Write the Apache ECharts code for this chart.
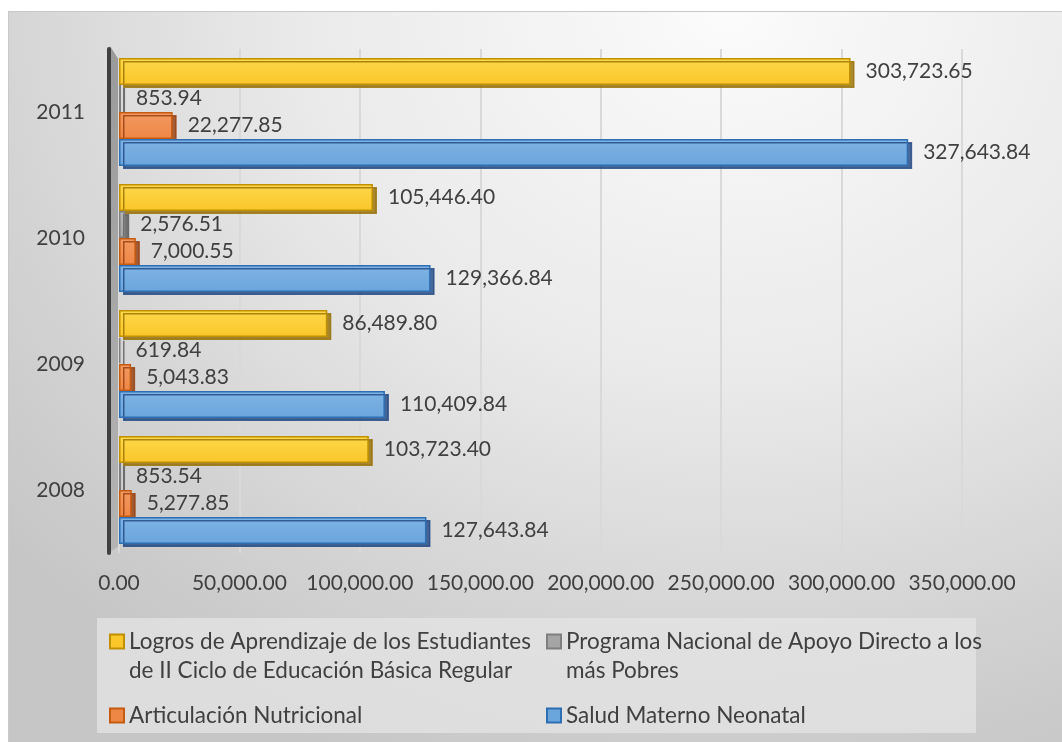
<!DOCTYPE html>
<html>
<head>
<meta charset="utf-8">
<script src="https://cdn.jsdelivr.net/npm/echarts@6/dist/echarts.min.js"></script>
<style>
  html, body { margin: 0; padding: 0; background: #ffffff; }
  .bg {
    position: absolute; left: 8px; top: 11px; width: 1060px; height: 740px;
    box-sizing: border-box; border: 1px solid #c9c9c9;
    background: radial-gradient(ellipse 90% 110% at 68% 0%, #fbfbfb 0%, #eaeaea 45%, #d2d2d2 80%, #c6c6c6 100%);
  }
  #chart { position: absolute; left: 0; top: 0; width: 1062px; height: 742px; }
</style>
</head>
<body>
<div class="bg"></div>
<div id="chart"></div>
<script>
// categorias (abajo -> arriba)
const years = ['2008', '2009', '2010', '2011'];

// valores por programa
const logros = [103723.40, 86489.80, 105446.40, 303723.65];
const programa = [853.54, 619.84, 2576.51, 853.94];
const articulacion = [5277.85, 5043.83, 7000.55, 22277.85];
const salud = [127643.84, 110409.84, 129366.84, 327643.84];

// eje x
const xMin = 0;
const xMax = 350000;
const xStep = 50000;

const names = [
  'Logros de Aprendizaje de los Estudiantes\nde II Ciclo de Educación Básica Regular',
  'Programa Nacional de Apoyo Directo a los\nmás Pobres',
  'Articulación Nutricional',
  'Salud Materno Neonatal'
];

const colors = [
  { fill: '#fac62a', light: '#fdd84a', border: '#bf9000', side: 'rgba(150,110,0,0.8)' },
  { fill: '#a5a5a5', light: '#b8b8b8', border: '#7f7f7f', side: 'rgba(90,90,90,0.8)' },
  { fill: '#ee8645', light: '#f39a62', border: '#c55a11', side: 'rgba(150,60,10,0.8)' },
  { fill: '#6aa5dc', light: '#7fb4e4', border: '#2e6fb4', side: 'rgba(30,70,130,0.8)' }
];

const fmt = v => v.toLocaleString('en-US', { minimumFractionDigits: 2, maximumFractionDigits: 2 });
const font = 'Lato';
const txt = '#404040';

const mkSeries = (idx, data) => ({
  name: names[idx],
  type: 'bar',
  data: data,
  barWidth: 27,
  barGap: '0%',
  itemStyle: {
    color: {
      type: 'linear', x: 0, y: 0, x2: 0, y2: 1,
      colorStops: [
        { offset: 0, color: colors[idx].light },
        { offset: 1, color: colors[idx].fill }
      ]
    },
    borderColor: colors[idx].border,
    borderWidth: 1.5,
    shadowColor: colors[idx].side,
    shadowBlur: 0,
    shadowOffsetX: 4,
    shadowOffsetY: 3
  },
  label: {
    show: true,
    position: 'right',
    distance: 15,
    color: txt,
    fontFamily: font,
    fontSize: 21,
    formatter: p => fmt(p.value)
  }
});

// dos lineas: se antepone una linea vacia para alinear el icono con la primera
const legendItem = (idx, left, top) => ({
  left: left,
  top: top,
  padding: 0,
  icon: 'rect',
  itemWidth: 14,
  itemHeight: 14,
  data: [{
    name: names[idx],
    itemStyle: { color: colors[idx].fill, borderColor: colors[idx].border, borderWidth: 2, shadowBlur: 0, shadowOffsetX: 0, shadowOffsetY: 0 }
  }],
  selectedMode: false,
  formatter: n => (n.indexOf('\n') >= 0 ? '\n' + n : n),
  textStyle: {
    color: txt,
    fontFamily: font,
    fontSize: 22.5,
    lineHeight: 29
  }
});

const myChart = echarts.init(document.getElementById('chart'));

const option = {
  animation: false,
  grid: { left: 119, right: 100, top: 49, bottom: 189, containLabel: false },
  xAxis: {
    type: 'value',
    min: xMin,
    max: xMax,
    interval: xStep,
    axisLine: { show: false },
    axisTick: { show: false },
    axisLabel: { color: txt, fontFamily: font, fontSize: 21, margin: 20, formatter: v => fmt(v) },
    splitLine: { show: true, lineStyle: { color: '#d9d9d9', width: 2 } }
  },
  yAxis: {
    type: 'category',
    data: years,
    offset: 10,
    axisLine: { show: true, onZero: false, lineStyle: { color: '#404040', width: 4 } },
    axisTick: { show: false },
    axisLabel: { color: txt, fontFamily: font, fontSize: 21, margin: 24 }
  },
  legend: [
    legendItem(0, 109, 598),
    legendItem(1, 546, 598),
    legendItem(2, 109, 701),
    legendItem(3, 546, 701)
  ],
  graphic: [
    {
      type: 'rect',
      z: -1,
      shape: { x: 97, y: 618, width: 879, height: 115 },
      style: { fill: 'rgba(228,228,228,0.75)' }
    },
    {
      type: 'polygon',
      z: -1,
      shape: { points: [[110, 46], [119, 60], [119, 546], [110, 552]] },
      style: {
        fill: {
          type: 'linear', x: 0, y: 0, x2: 0, y2: 1,
          colorStops: [{ offset: 0, color: '#9a9a9a' }, { offset: 1, color: '#b4b4b4' }]
        }
      }
    }
  ],
  series: [
    mkSeries(0, logros),
    mkSeries(1, programa),
    mkSeries(2, articulacion),
    mkSeries(3, salud)
  ]
};

myChart.setOption(option);
</script>
</body>
</html>
